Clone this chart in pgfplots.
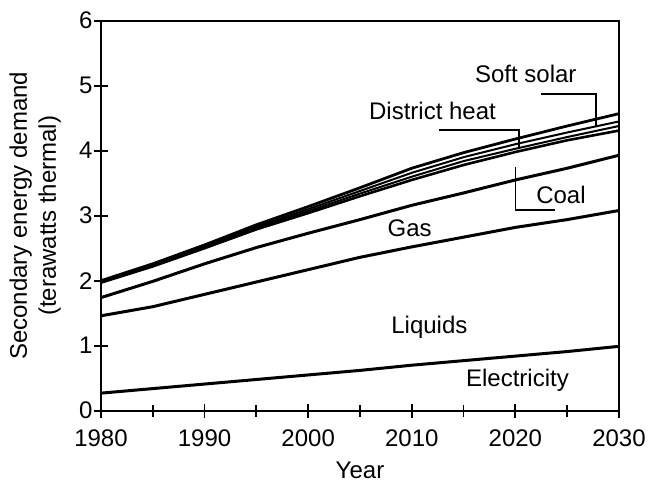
\documentclass[border=0pt]{standalone}
\usepackage{pgfplots}
\usepackage{pgfplotstable}
\pgfplotsset{compat=1.18}
\usepackage{fontspec}
\setmainfont{Liberation Sans}
\pgfplotstableread{
year elec liq  gas  coal dh   other soft
1980 0.27 1.46 1.74 1.97 1.98 1.99 2.00
1985 0.34 1.60 1.99 2.22 2.23 2.24 2.26
1990 0.41 1.79 2.26 2.50 2.52 2.53 2.55
1995 0.48 1.98 2.51 2.79 2.81 2.83 2.86
2000 0.55 2.17 2.73 3.04 3.07 3.10 3.14
2005 0.62 2.36 2.94 3.30 3.34 3.38 3.43
2010 0.70 2.52 3.16 3.55 3.60 3.66 3.73
2015 0.77 2.67 3.35 3.78 3.84 3.90 3.97
2020 0.84 2.82 3.55 3.98 4.03 4.10 4.18
2025 0.91 2.94 3.73 4.16 4.21 4.28 4.38
2030 0.99 3.08 3.93 4.31 4.38 4.45 4.57
}\demand
\begin{document}
\fontsize{12}{14.5}\selectfont
\begin{tikzpicture}
\useasboundingbox (-50.5pt,-35.15pt) rectangle (273.5pt,205.35pt);
\begin{axis}[
  scale only axis,
  width=259pt, height=195pt,
  xmin=1980, xmax=2030, ymin=0, ymax=6,
  xtick={1980,1990,...,2030},
  minor xtick={1985,1995,...,2025},
  ytick={0,1,...,6},
  tick pos=left,
  tick align=center,
  major tick length=7pt,
  minor tick length=6pt,
  every tick/.style={black, line width=0.9pt},
  axis line style={line width=1.1pt},
  /pgf/number format/assume math mode=true,
  /pgf/number format/1000 sep={},
  ticklabel style={font=\fontsize{12}{14.5}\selectfont},
  xticklabel style={yshift=-2pt},
  yticklabel style={xshift=3.5pt},
  xlabel={Year},
  ylabel={Secondary energy demand\\(terawatts thermal)},
  ylabel style={align=center, font=\fontsize{12}{14.5}\selectfont, yshift=1pt},
  xlabel style={font=\fontsize{12}{14.5}\selectfont, yshift=0.5pt},
  clip=false,
]
\addplot[black, line width=1.5pt] table[x=year, y=elec] {\demand};
\addplot[black, line width=1.5pt] table[x=year, y=liq] {\demand};
\addplot[black, line width=1.5pt] table[x=year, y=gas] {\demand};
\addplot[black, line width=1.3pt] table[x=year, y=coal] {\demand};
\addplot[black, line width=1.0pt] table[x=year, y=dh] {\demand};
\addplot[black, line width=1.0pt] table[x=year, y=other] {\demand};
\addplot[black, line width=1.4pt] table[x=year, y=soft] {\demand};
\node at (axis cs:2021,5.18) {Soft solar};
\node at (axis cs:2012,4.61) {District heat};
\node at (axis cs:2024.4,3.32) {Coal};
\node at (axis cs:2009.8,2.80) {Gas};
\node at (axis cs:2011.7,1.28) {Liquids};
\node at (axis cs:2020.2,0.47) {Electricity};
\draw[line width=0.8pt] (axis cs:2012.6,4.32) -- (axis cs:2020.35,4.32) -- (axis cs:2020.35,4.06);
\draw[line width=0.8pt] (axis cs:2022.5,4.87) -- (axis cs:2027.8,4.87) -- (axis cs:2027.8,4.38);
\draw[line width=0.8pt] (axis cs:2020.0,3.75) -- (axis cs:2020.0,3.09) -- (axis cs:2023.8,3.09);
\end{axis}
\end{tikzpicture}
\end{document}
